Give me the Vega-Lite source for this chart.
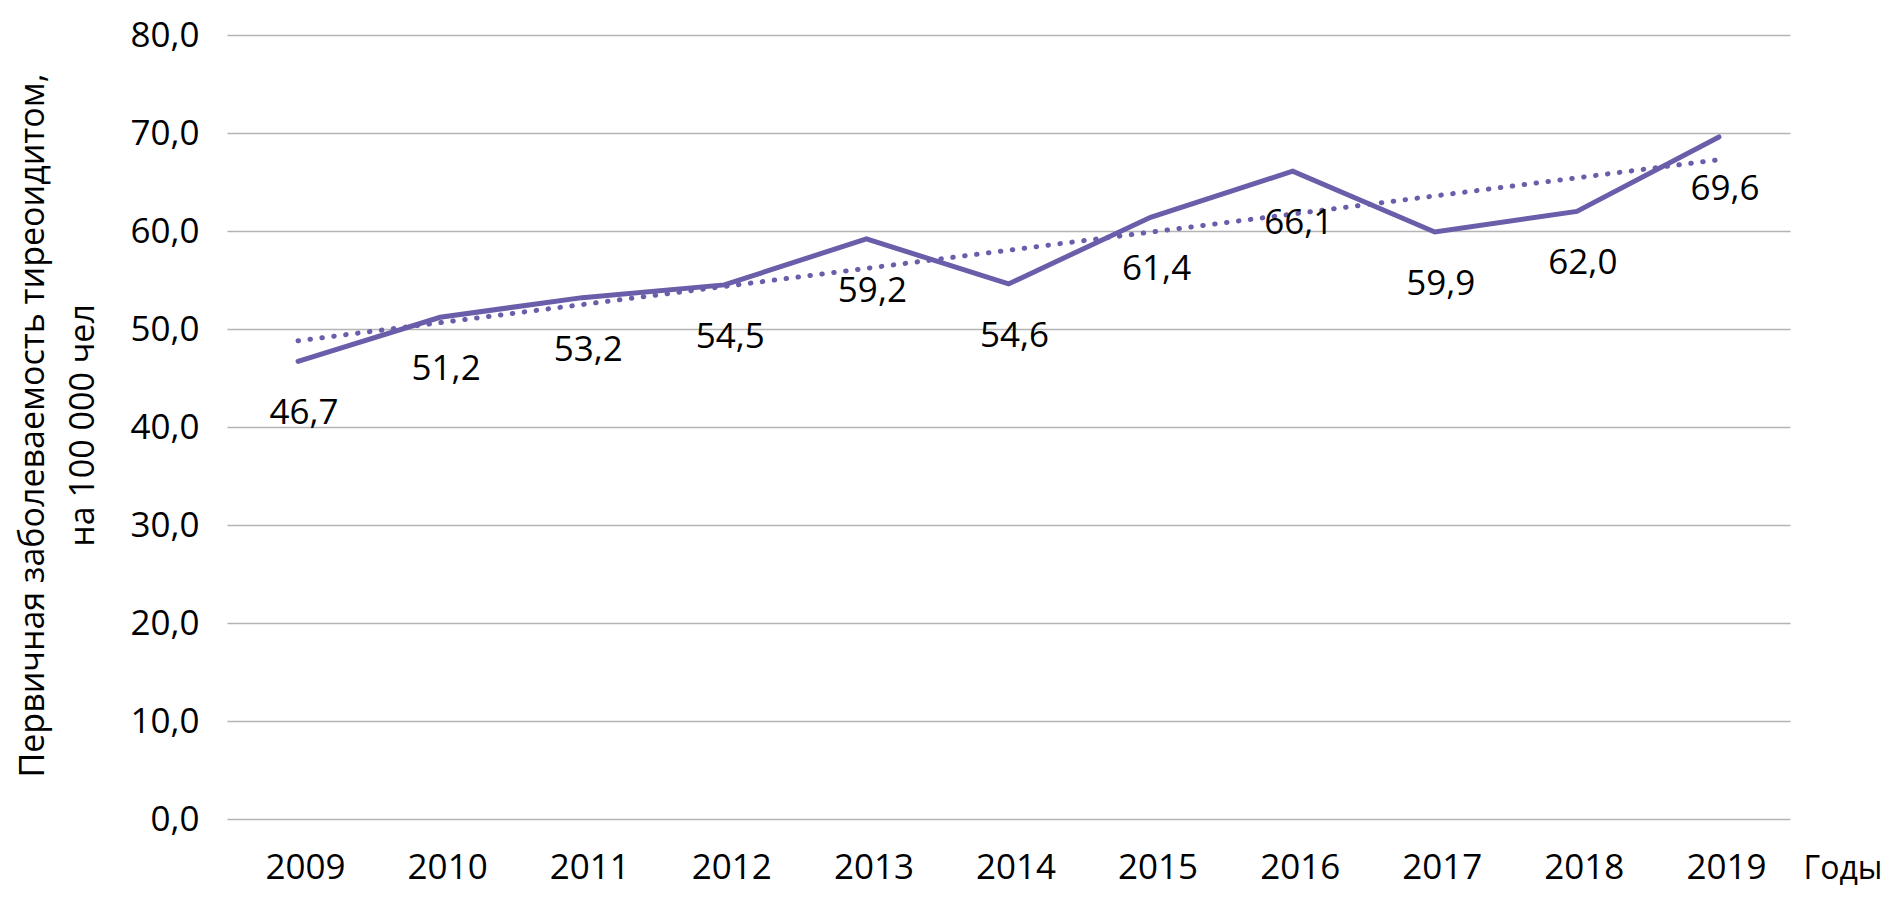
{
  "$schema": "https://vega.github.io/schema/vega-lite/v6.json",
  "autosize": {"type": "none"},
  "padding": {"left": 227, "top": 35, "right": 98, "bottom": 78},
  "width": 1563,
  "height": 784,
  "background": "white",
  "config": {
    "locale": {"number": {"decimal": ",", "thousands": " ", "grouping": [3], "currency": ["", " ₽"]}},
    "view": {"stroke": null},
    "font": "Open Sans"
  },
  "data": {
    "values": [
      {"year": 2009, "value": 46.7},
      {"year": 2010, "value": 51.2},
      {"year": 2011, "value": 53.2},
      {"year": 2012, "value": 54.5},
      {"year": 2013, "value": 59.2},
      {"year": 2014, "value": 54.6},
      {"year": 2015, "value": 61.4},
      {"year": 2016, "value": 66.1},
      {"year": 2017, "value": 59.9},
      {"year": 2018, "value": 62.0},
      {"year": 2019, "value": 69.6}
    ]
  },
  "encoding": {
    "x": {
      "field": "year",
      "type": "ordinal",
      "scale": {"type": "point", "padding": 0.5},
      "axis": {
        "labelAngle": 0,
        "labelFont": "Open Sans",
        "labelFontSize": 35,
        "labelColor": "#000000",
        "labelBaseline": "alphabetic",
        "labelPadding": 59,
        "labelOffset": 7,
        "ticks": false,
        "tickSize": 0,
        "domain": false,
        "grid": false,
        "title": "Годы",
        "titleFont": "Open Sans",
        "titleFontSize": 32,
        "titleFontWeight": "normal",
        "titleColor": "#000000",
        "titleAnchor": "start",
        "titleAlign": "left",
        "titleBaseline": "alphabetic",
        "titleX": 1576,
        "titleY": 59
      }
    },
    "y": {
      "field": "value",
      "type": "quantitative",
      "scale": {"domain": [0, 80], "nice": false, "zero": true},
      "axis": {
        "values": [0, 10, 20, 30, 40, 50, 60, 70, 80],
        "format": ".1f",
        "labelFont": "Open Sans",
        "labelFontSize": 35,
        "labelColor": "#000000",
        "labelPadding": 28,
        "ticks": false,
        "tickSize": 0,
        "domain": false,
        "grid": true,
        "gridColor": "#b4b4b4",
        "gridWidth": 1.5,
        "title": ["Первичная заболеваемость тиреоидитом,", "на 100 000 чел"],
        "titleFont": "Open Sans",
        "titleFontSize": 34,
        "titleFontWeight": "normal",
        "titleColor": "#000000",
        "titleAngle": -90,
        "titleAlign": "center",
        "titleBaseline": "alphabetic",
        "titleLineHeight": 50,
        "titleX": -184,
        "titleY": 390
      }
    }
  },
  "layer": [
    {
      "mark": {"type": "line", "color": "#6A5DAA", "strokeWidth": 5, "strokeCap": "round", "strokeJoin": "miter"}
    },
    {
      "transform": [{"regression": "value", "on": "year", "method": "linear"}],
      "mark": {"type": "line", "color": "#6A5DAA", "strokeWidth": 5, "strokeCap": "round", "strokeDash": [0.5, 11.5]}
    },
    {
      "mark": {"type": "text", "font": "Open Sans", "fontSize": 35, "color": "#000000", "baseline": "middle", "align": "center", "dy": 52, "dx": 6},
      "encoding": {
        "text": {"field": "value", "type": "quantitative", "format": ".1f"}
      }
    }
  ]
}
